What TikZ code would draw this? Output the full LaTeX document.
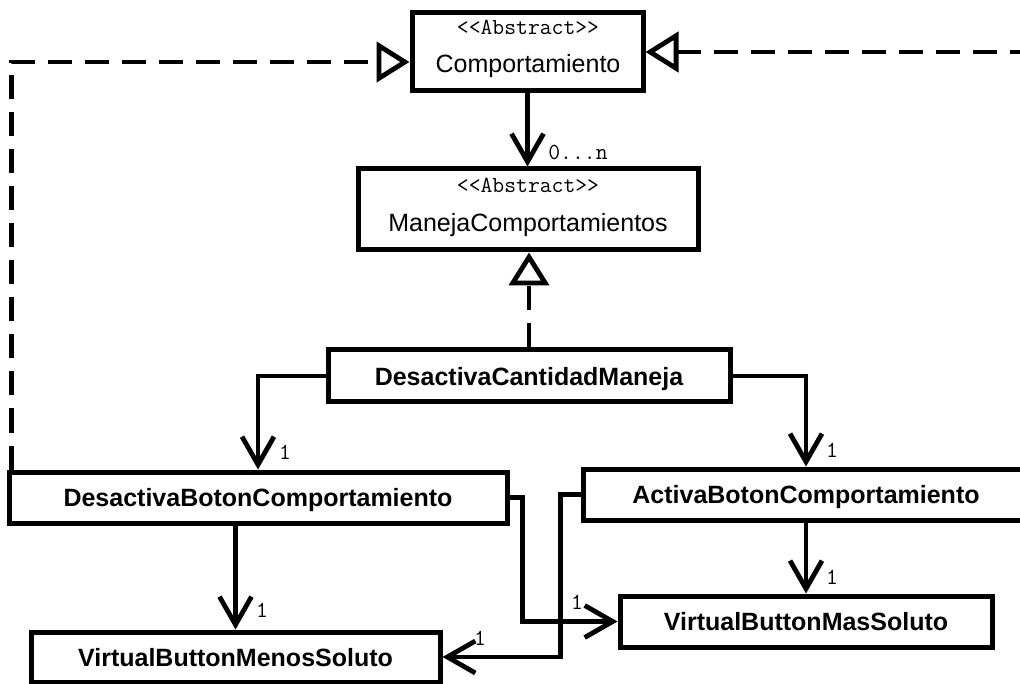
\documentclass[tikz,border=0pt]{standalone}
\usepackage{fontspec}
\setmainfont{Liberation Sans}
\usetikzlibrary{arrows.meta}
\begin{document}
\begin{tikzpicture}[x=1pt,y=-1pt,
  box/.style={draw, line width=5pt, rectangle, inner sep=0pt},
  cls/.style={box, font=\bfseries\fontsize{25}{30}\selectfont, text height=18pt, text depth=0pt},
  stereo/.style={font=\ttfamily\fontsize{23}{27}\selectfont, inner sep=0pt, anchor=base},
  cname/.style={font=\fontsize{25}{30}\selectfont, inner sep=0pt, anchor=base},
  mult/.style={font=\ttfamily\fontsize{23}{27}\selectfont, inner sep=0pt},
  assoc/.style={line width=4.8pt, -{Straight Barb[length=28pt,width=32pt]}},
  realize/.style={line width=4.8pt, dash pattern=on 24pt off 13pt,
    -{Triangle[open,length=33pt,width=40pt]}},
]
\useasboundingbox (0,0) rectangle (1020,684);
\clip (0,0) rectangle (1020,684);

% abstract classes
\node[box, minimum width=231pt, minimum height=78pt] (comp) at (527.5,52) {};
\node[stereo] (compst) at (528,35) {<{}<Abstract>{}>};
\node[cname] (compnm) at (528,73) {Comportamiento};

\node[box, minimum width=340pt, minimum height=81pt] (mcomp) at (528,209.5) {};
\node[stereo] (mcompst) at (528,193) {<{}<Abstract>{}>};
\node[cname] (mcompnm) at (528,232) {ManejaComportamientos};

% concrete classes
\node[cls, minimum width=402pt, minimum height=52pt] (dcm) at (529,376) {DesactivaCantidadManeja};
\node[cls, minimum width=498pt, minimum height=51pt] (dbc) at (258,497.5) {DesactivaBotonComportamiento};
\node[cls, minimum width=446pt, minimum height=51pt] (abc) at (806,494.5) {ActivaBotonComportamiento};
\node[cls, minimum width=409pt, minimum height=50pt] (vbm) at (235.5,657) {VirtualButtonMenosSoluto};
\node[cls, minimum width=372pt, minimum height=51pt] (vbp) at (806,621.5) {VirtualButtonMasSoluto};

% associations
\draw[assoc] (comp.south) -- (comp.south |- mcomp.north);
\draw[assoc] (dcm.west) -| (dbc.north);
\draw[assoc] (dcm.east) -| (abc.north);
\draw[assoc] (vbm.north |- dbc.south) -- (vbm.north);
\draw[assoc] (abc.south) -- (vbp.north);
\draw[assoc] (dbc.east) -- ++(13,0) |- (vbp.west);
\draw[assoc] (abc.west) -- ++(-20,0) |- (vbm.east);

% realizations
\draw[realize] (dcm.north) -- (dcm.north |- mcomp.south);
\draw[realize] ([xshift=5pt]dbc.north west) |- ([yshift=-10pt]comp.west);
\draw[realize] ([xshift=-5pt]abc.north east) |- (comp.east);

% multiplicities
\node[mult] (m0) at (578,152) {0...n};
\node[mult] (m1) at (285,452) {1};
\node[mult] (m2) at (832,450) {1};
\node[mult] (m3) at (262,610) {1};
\node[mult] (m4) at (832,577) {1};
\node[mult] (m5) at (577,602) {1};
\node[mult] (m6) at (480,638) {1};
\end{tikzpicture}
\end{document}
